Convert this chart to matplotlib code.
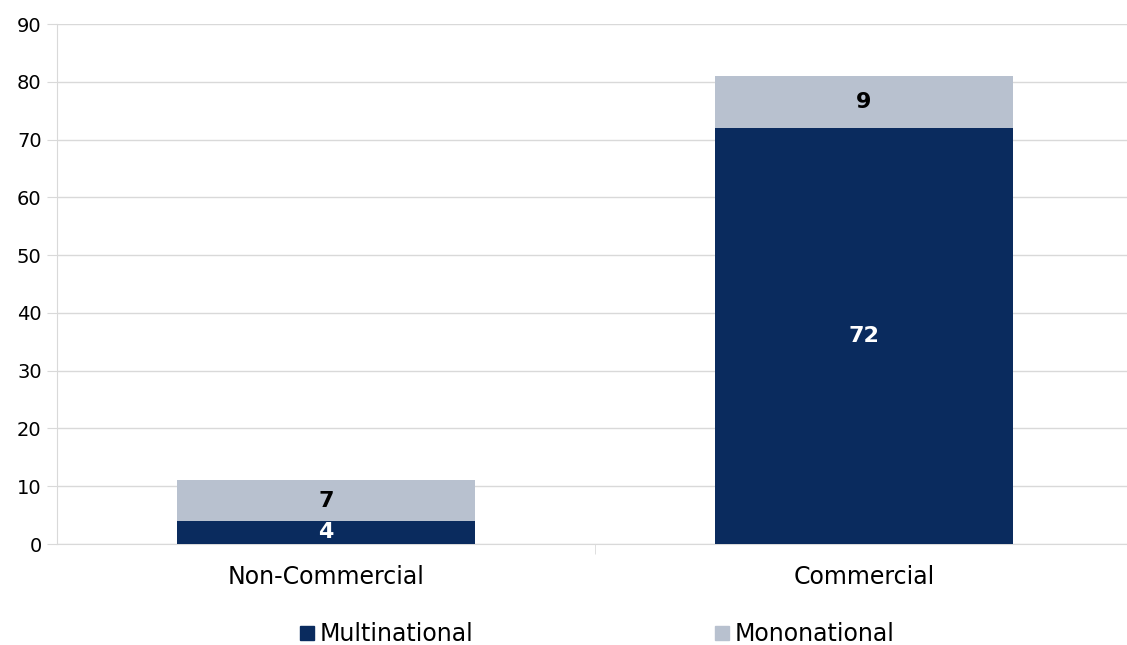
import matplotlib.pyplot as plt
from matplotlib.lines import Line2D

categories = ['Non-Commercial', 'Commercial']
multinational = [4, 72]
mononational = [7, 9]
yticks = [0, 10, 20, 30, 40, 50, 60, 70, 80, 90]

dark = '#0a2b5e'
light = '#b8c1cf'

fig = plt.figure(figsize=(11.27, 6.45), dpi=100)
ax = fig.add_axes([57 / 1127, 101 / 645, 1070 / 1127, 520 / 645])

x = range(len(categories))
ax.bar(x, multinational, width=0.554, color=dark, zorder=3)
ax.bar(x, mononational, width=0.554, bottom=multinational, color=light, zorder=3)

for i in x:
    ax.text(i, multinational[i] / 2, str(multinational[i]), ha='center', va='center',
            color='white', fontsize=16, fontweight='bold', zorder=4)
    ax.text(i, multinational[i] + mononational[i] / 2, str(mononational[i]),
            ha='center', va='center', color='black', fontsize=16, fontweight='bold', zorder=4)

ax.set_ylim(0, 90)
ax.set_xlim(-0.5, 1.489)
ax.set_yticks(yticks)
ax.grid(axis='y', color='#d9d9d9', linewidth=1, zorder=0)
ax.tick_params(axis='y', length=7, color='#d9d9d9', labelsize=14, pad=4)
ax.set_xticks(x)
ax.set_xticklabels(categories, fontsize=17)
ax.tick_params(axis='x', length=0, pad=15)
# category separator ticks
ax.set_xticks([0.5], minor=True)
ax.tick_params(axis='x', which='minor', length=7, color='#d9d9d9')
for s in ['top', 'right']:
    ax.spines[s].set_visible(False)
ax.spines['left'].set_color('#d9d9d9')
ax.spines['bottom'].set_color('#d9d9d9')

handles = [Line2D([], [], marker='s', linestyle='', markersize=10, color=dark),
           Line2D([], [], marker='s', linestyle='', markersize=10, color=light)]
fig.legend(handles, ['Multinational', 'Mononational'], loc='center', bbox_to_anchor=(0.53, 0.017),
           ncol=2, frameon=False, fontsize=17, handlelength=0.6, handletextpad=0.25,
           columnspacing=10.2)

fig.savefig('out.png', dpi=100)
